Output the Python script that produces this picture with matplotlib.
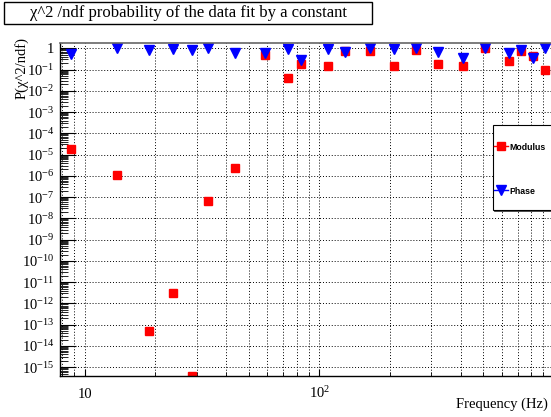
import numpy as np
import matplotlib
matplotlib.use("Agg")
import matplotlib.pyplot as plt
from matplotlib import ticker
from matplotlib.patches import Rectangle
from matplotlib.lines import Line2D

plt.rcParams["font.family"] = ["Liberation Serif", "DejaVu Serif"]
plt.rcParams["mathtext.fontset"] = "custom"
plt.rcParams["mathtext.rm"] = "Liberation Serif"
plt.rcParams["mathtext.it"] = "Liberation Serif:italic"

# dados
freq = [8.71, 13.7, 18.8, 23.7, 28.8, 33.6, 43.7, 58.7, 73.9, 83.8, 109,
        129, 164, 209, 259, 320, 411, 510, 644, 724, 817, 916]
modulus = [1.8e-5, 1.1e-6, 5.1e-14, 3.2e-12, 4e-16, 6.8e-8, 2.4e-6, 0.47,
           0.04, 0.18, 0.14, 0.72, 0.77, 0.14, 0.86, 0.18, 0.14, 1.0, 0.24,
           0.72, 0.42, 0.095]
phase = [0.56, 1.0, 0.8, 0.95, 0.8, 1.0, 0.62, 0.62, 0.93, 0.27, 0.9, 0.67,
         1.0, 0.96, 1.0, 0.67, 0.35, 1.0, 0.62, 0.8, 0.35, 1.0]
labels = ["Modulus", "Phase"]
titulo = "\u03c7^2 /ndf probability of the data fit by a constant"

W, H = 551, 417
fig = plt.figure(figsize=(W / 100, H / 100), dpi=100)
ax = fig.add_axes([60 / W, 1 - 376 / H, 492 / W, (376 - 42.7) / H])

ax.plot(freq, modulus, ls="none", marker="s", ms=5.6, color="red", mec="red")
ax.plot(freq, phase, ls="none", marker="v", ms=6.8, color="blue", mec="blue")

ax.set_xscale("log")
ax.set_yscale("log")
ax.set_xlim(7.85, 981)
ax.set_ylim(3.9e-16, 1.83)

# eixo y
ax.yaxis.set_major_locator(ticker.FixedLocator([10.0 ** -k for k in range(16)]))
ax.yaxis.set_minor_locator(ticker.LogLocator(base=10, subs=np.arange(2, 10), numticks=100))
ax.yaxis.set_major_formatter(ticker.FuncFormatter(
    lambda v, p: "1" if abs(v - 1) < 1e-9 else "$10^{%d}$" % round(np.log10(v))))
ax.yaxis.set_minor_formatter(ticker.NullFormatter())

# eixo x
ax.xaxis.set_major_locator(ticker.FixedLocator([10, 100]))
ax.xaxis.set_major_formatter(ticker.FixedFormatter(["10", "$10^{2}$"]))
ax.xaxis.set_minor_locator(ticker.LogLocator(base=10, subs=np.arange(2, 10), numticks=100))
ax.xaxis.set_minor_formatter(ticker.NullFormatter())

ax.tick_params(axis="y", which="major", direction="in", length=11.5, width=0.8,
               pad=4, labelsize=10.5, right=False)
ax.tick_params(axis="y", which="minor", direction="in", length=5.8, width=0.6, right=False)
ax.tick_params(axis="x", which="major", direction="in", length=5, width=0.8,
               pad=16, labelsize=10.5, top=False)
ax.tick_params(axis="x", which="minor", direction="in", length=3, width=0.6, top=False)
for lbl in ax.get_xticklabels():
    lbl.set_verticalalignment("baseline")

ax.grid(True, which="major", axis="both", ls=(0, (1, 2)), color="k", lw=0.7)
ax.grid(True, which="minor", axis="x", ls=(0, (1, 2)), color="k", lw=0.7)

for s in ["left", "bottom"]:
    ax.spines[s].set_linewidth(1.0)
ax.spines["top"].set_color("#666666")
ax.spines["top"].set_linewidth(1.2)
ax.spines["right"].set_visible(False)

# titulo
fig.add_artist(Rectangle((4 / W, 1 - 24 / H), 368 / W, 22 / H, transform=fig.transFigure,
                         fc="white", ec="black", lw=1))
fig.text(188 / W, 1 - 13 / H, titulo, ha="center", va="center", fontsize=12)

fig.text(22 / W, 1 - 37 / H, "P(\u03c7^2/ndf)", rotation=90, ha="center", va="top", fontsize=10.5)
fig.text(548 / W, 1 - 404 / H, "Frequency (Hz)", ha="right", va="center", fontsize=10.5)

# legenda
fig.add_artist(Rectangle((493.7 / W, 1 - 211.2 / H), 70 / W, 85 / H, transform=fig.transFigure,
                         fc="#444444", ec="#444444", lw=0.6, zorder=5))
fig.add_artist(Rectangle((492.7 / W, 1 - 210 / H), 70 / W, 85 / H, transform=fig.transFigure,
                         fc="white", ec="black", lw=0.8, zorder=6))
handles = [Line2D([], [], color="red", marker="s", ms=5.6, lw=1),
           Line2D([], [], color="blue", marker="v", ms=6.8, lw=1)]
leg = fig.legend(handles, labels, loc="upper left", bbox_to_anchor=(494 / W, 1 - 142.5 / H),
                 frameon=False, prop={"family": "Liberation Sans", "weight": "bold", "size": 6.3},
                 handlelength=1.6, handletextpad=0.2, labelspacing=4.0, borderpad=0,
                 borderaxespad=0)
leg.set_zorder(7)

fig.savefig("out.png", dpi=100)
